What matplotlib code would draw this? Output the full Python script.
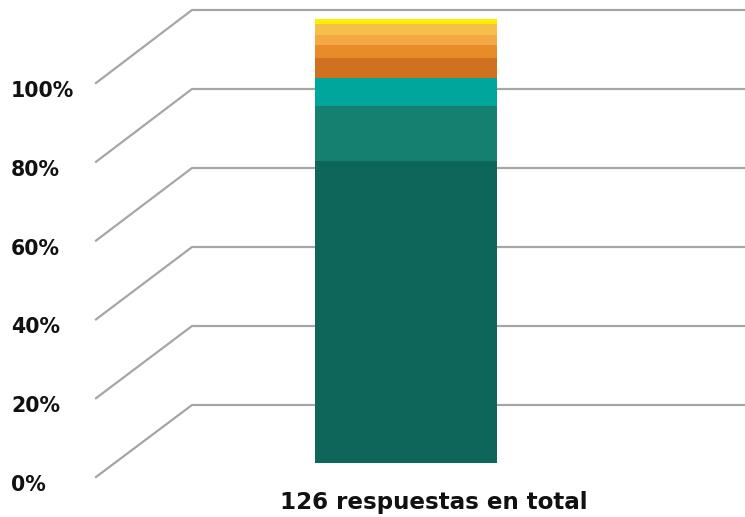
import numpy as np
from matplotlib import pyplot as plt

# porcentaje de respuestas por categoría (de abajo hacia arriba)
shares = [68.0, 12.4, 6.4, 4.4, 3.0, 2.3, 2.4, 1.1]
colors = ['#0d6659', '#168070', '#00a69c', '#d0711f', '#e88b2a', '#f4a944', '#f5c04a', '#ffee00']
tick_labels = ['0%', '20%', '40%', '60%', '80%', '100%']
tick_values = [0, 20, 40, 60, 80, 100]
xlabel = '126 respuestas en total'

W, H = 745, 517
fig = plt.figure(figsize=(W / 100, H / 100), dpi=100)

# fondo con la rejilla en perspectiva (coordenadas en pixeles)
bg = fig.add_axes([0, 0, 1, 1])
bg.set_xlim(0, W)
bg.set_ylim(H, 0)
bg.axis('off')

back0, back100 = 405, 10
front0, front100 = 477, 83
for v, lab in zip(tick_values, tick_labels):
    yb = back0 + (back100 - back0) * v / 100
    yf = front0 + (front100 - front0) * v / 100
    bg.plot([96, 192, W], [yf, yb, yb], color='#a6a6a6', lw=1.6,
            solid_joinstyle='miter')
    bg.text(11, yf + 8, lab, fontsize=14.8, fontweight='bold', color='#111111',
            ha='left', va='center', family='DejaVu Sans')

bg.text(434, 502, xlabel, fontsize=16.6, fontweight='bold', color='#111111',
        ha='center', va='center', family='DejaVu Sans')

# barra apilada
ax = fig.add_axes([315 / W, (H - 463) / H, (497 - 315) / W, (463 - 19) / H])
ax.set_xlim(-0.5, 0.5)
ax.set_ylim(0, sum(shares))
ax.axis('off')
bottom = 0
for s, col in zip(shares, colors):
    ax.bar(0, s, width=1, bottom=bottom, color=col, edgecolor='none')
    bottom += s

fig.savefig('out.png', dpi=100)
